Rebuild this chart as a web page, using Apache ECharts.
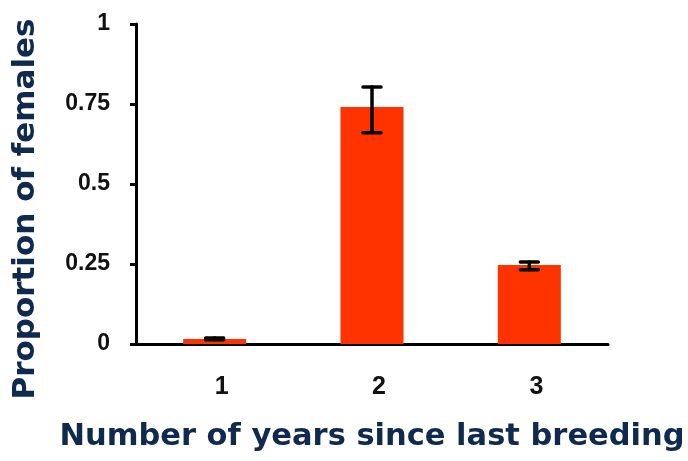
<!DOCTYPE html>
<html>
<head>
<meta charset="utf-8">
<script src="https://cdn.jsdelivr.net/npm/echarts@6/dist/echarts.min.js"></script>
<style>
  html, body { margin: 0; padding: 0; background: #ffffff; }
  #chart { width: 688px; height: 461px; }
</style>
</head>
<body>
<div id="chart"></div>
<script>
// Years since the last breeding event
const categories = ['1', '2', '3'];
// Mean proportion of females
const proportions = [0.016, 0.741, 0.247];
// Error bar limits (lower, upper)
const errLow = [0.013, 0.66, 0.232];
const errHigh = [0.019, 0.803, 0.256];
// Y-axis ticks
const yMin = 0, yMax = 1, yStep = 0.25;

const navy = '#0f2a4e';

const chart = echarts.init(document.getElementById('chart'), null, { renderer: 'canvas' });

chart.setOption({
  animation: false,
  backgroundColor: '#ffffff',
  grid: { left: 136, right: 80, top: 24, bottom: 117, containLabel: false, outerBoundsMode: 'none' },
  xAxis: {
    type: 'category',
    data: categories,
    name: 'Number of years since last breeding',
    nameLocation: 'middle',
    nameGap: 78,
    nameTextStyle: {
      fontFamily: 'DejaVu Sans',
      fontWeight: 'bold',
      fontSize: 30.5,
      color: navy,
      verticalAlign: 'top'
    },
    axisLine: { lineStyle: { color: '#000', width: 3 } },
    axisTick: { show: false },
    axisLabel: {
      margin: 31,
      padding: [0, 0, 0, 14],
      fontFamily: 'Liberation Sans',
      fontWeight: 'bold',
      fontSize: 25,
      color: '#111'
    },
    splitLine: { show: false }
  },
  yAxis: {
    type: 'value',
    min: yMin,
    max: yMax,
    interval: yStep,
    name: 'Proportion of females',
    nameLocation: 'middle',
    nameGap: 95,
    nameRotate: 90,
    nameTextStyle: {
      fontFamily: 'DejaVu Sans',
      fontWeight: 'bold',
      fontSize: 31,
      color: navy,
      padding: [0, 50, 0, 0]
    },
    axisLine: { show: true, lineStyle: { color: '#000', width: 3 } },
    axisTick: { show: true, inside: false, length: 6, lineStyle: { color: '#000', width: 3 } },
    axisLabel: {
      margin: 26,
      padding: [0, 0, 8, 0],
      fontFamily: 'Liberation Sans',
      fontWeight: 'bold',
      fontSize: 23,
      color: '#111'
    },
    splitLine: { show: false }
  },
  series: [
    {
      type: 'bar',
      data: proportions,
      barWidth: 63,
      itemStyle: { color: '#ff3300' }
    },
    {
      type: 'custom',
      data: categories.map((c, i) => [i, errLow[i], errHigh[i]]),
      z: 10,
      renderItem: function (params, api) {
        const lo = api.coord([api.value(0), api.value(1)]);
        const hi = api.coord([api.value(0), api.value(2)]);
        const half = 9;
        const style = { stroke: '#000', lineWidth: 3.5, lineCap: 'round' };
        return {
          type: 'group',
          children: [
            { type: 'line', shape: { x1: lo[0], y1: lo[1], x2: hi[0], y2: hi[1] }, style: style },
            { type: 'line', shape: { x1: hi[0] - half, y1: hi[1], x2: hi[0] + half, y2: hi[1] }, style: style },
            { type: 'line', shape: { x1: lo[0] - half, y1: lo[1], x2: lo[0] + half, y2: lo[1] }, style: style }
          ]
        };
      }
    }
  ]
});
</script>
</body>
</html>
